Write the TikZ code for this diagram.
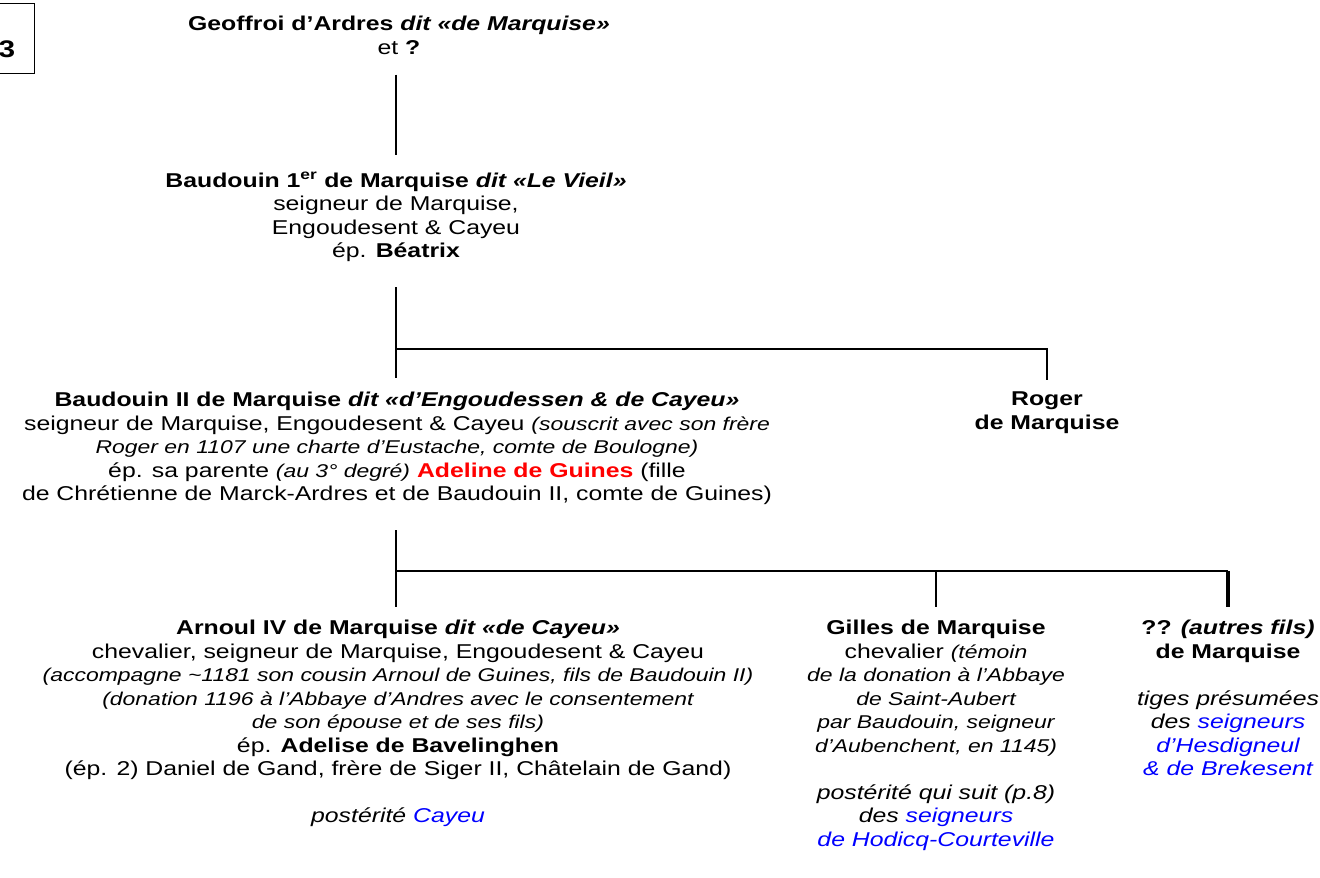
\documentclass[tikz,border=0pt]{standalone}
\usepackage{fontspec}
\setmainfont{Liberation Sans}[FakeStretch=1.24]
\usetikzlibrary{positioning}
\definecolor{lienbleu}{RGB}{0,0,255}
\definecolor{rougeguines}{RGB}{255,0,0}
\newcommand{\rem}[1]{{\fontsize{18.5}{23.5}\selectfont\itshape #1}}
\newcommand{\lien}[1]{\textcolor{lienbleu}{#1}}
\tikzstyle{person} = [anchor=north, align=center, inner sep=0pt,
    font=\fontsize{20}{23.5}\selectfont]
\tikzstyle{numero} = [inner sep=0pt, font=\fontsize{24}{26}\selectfont\bfseries]
\tikzstyle{cadre} = [line width=1pt]
\tikzstyle{branch} = [line width=1.6pt]
\tikzstyle{lourd} = [line width=2.6pt]
\tikzstyle{tige} = [line width=3.6pt]

\begin{document}
\begin{tikzpicture}[x=1pt, y=-1pt]
        \useasboundingbox (0,0) rectangle (1320,878);

        \draw [cadre] (-40,3) rectangle (34,73);
        \node [numero] (planche) at (7,49) {3};

        \node [person] (geoffroi) at (399,16) {\textbf{Geoffroi d’Ardres \textit{dit «de Marquise»}}\\et \textbf{?}};

        \node [person] (baudouinI) at (396,172) {\textbf{Baudouin 1\textsuperscript{er} de Marquise \textit{dit «Le Vieil»}}\\
            seigneur de Marquise,\\Engoudesent \& Cayeu\\ép. \textbf{Béatrix}};

        \node [person] (baudouinII) at (397,392) {\textbf{Baudouin II de Marquise \textit{dit «d’Engoudessen \& de Cayeu»}}\\
            seigneur de Marquise, Engoudesent \& Cayeu \rem{(souscrit avec son frère}\\
            \rem{Roger en 1107 une charte d’Eustache, comte de Boulogne)}\\
            ép. sa parente \rem{(au 3° degré)} \textcolor{rougeguines}{\textbf{Adeline de Guines}} (fille\\
            de Chrétienne de Marck-Ardres et de Baudouin II, comte de Guines)};
        \node [person] (roger) at (1047,392) {\textbf{Roger}\\\textbf{de Marquise}};

        \node [person] (arnoul) at (398,620) {\textbf{Arnoul IV de Marquise \textit{dit «de Cayeu»}}\\
            chevalier, seigneur de Marquise, Engoudesent \& Cayeu\\
            \rem{(accompagne \textasciitilde1181 son cousin Arnoul de Guines, fils de Baudouin II)}\\
            \rem{(donation 1196 à l’Abbaye d’Andres avec le consentement}\\
            \rem{de son épouse et de ses fils)}\\
            ép. \textbf{Adelise de Bavelinghen}\\
            (ép. 2) Daniel de Gand, frère de Siger II, Châtelain de Gand)\\[23.5pt]
            \textit{postérité \lien{Cayeu}}};
        \node [person] (gilles) at (936,620) {\textbf{Gilles de Marquise}\\
            chevalier \rem{(témoin}\\
            \rem{de la donation à l’Abbaye}\\
            \rem{de Saint-Aubert}\\
            \rem{par Baudouin, seigneur}\\
            \rem{d’Aubenchent, en 1145)}\\[23.5pt]
            \textit{postérité qui suit (p.8)}\\
            \textit{des \lien{seigneurs}}\\
            \textit{\lien{de Hodicq-Courteville}}};
        \node [person] (autres) at (1228,620) {\textbf{?? \textit{(autres fils)}}\\
            \textbf{de Marquise}\\[23.5pt]
            \textit{tiges présumées}\\
            \textit{des \lien{seigneurs}}\\
            \textit{\lien{d’Hesdigneul}}\\
            \textit{\lien{\& de Brekesent}}};

        \coordinate (fourche1) at (396,349);
        \coordinate (fourche2) at (396,571);

        \draw [branch, shorten <=20pt, shorten >=17pt] (geoffroi.south -| baudouinI.north) -- (baudouinI.north);
        \draw [branch, shorten <=25pt] (baudouinI.south) -- (fourche1);
        \draw [branch, shorten >=14pt] (fourche1) -- (fourche1 |- baudouinII.north);
        \draw [branch, shorten >=12pt] (fourche1) -| (roger.north);
        \draw [branch, shorten <=25pt] (fourche1 |- baudouinII.south) -- (fourche2);
        \draw [branch, shorten >=13pt] (fourche2) -- (fourche2 |- arnoul.north);
        \draw [lourd] (fourche2) -- (fourche2 -| autres.north);
        \draw [branch, shorten >=13pt] (fourche2 -| gilles.north) -- (gilles.north);
        \draw [tige, shorten >=13pt] (fourche2 -| autres.north) -- (autres.north);
    \end{tikzpicture}
\end{document}
